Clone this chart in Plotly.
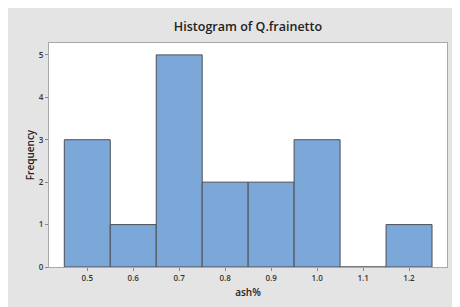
import plotly.graph_objects as go

bin_centers = [0.5, 0.6, 0.7, 0.8, 0.9, 1.0, 1.1, 1.2]
frequencies = [3, 1, 5, 2, 2, 3, 0, 1]
x_tick_vals = [0.5, 0.6, 0.7, 0.8, 0.9, 1.0, 1.1, 1.2]
x_tick_text = ["0.5", "0.6", "0.7", "0.8", "0.9", "1.0", "1.1", "1.2"]
y_tick_vals = [0, 1, 2, 3, 4, 5]

W, H = 460, 307
ml, mr, mt, mb = 41, 21, 35, 48

fig = go.Figure(go.Bar(
    x=bin_centers, y=frequencies, width=0.1,
    marker=dict(color="#7ba7d9", line=dict(color="#4d4f55", width=1)),
))

font = "Open Sans, Noto Sans, sans-serif"
fig.update_layout(
    template="none",
    width=W, height=H,
    margin=dict(l=ml, r=mr, t=mt, b=mb, autoexpand=False),
    paper_bgcolor="#e4e4e4",
    plot_bgcolor="white",
    showlegend=False,
    title=dict(text="Histogram of Q.frainetto", x=0.5, xanchor="center", xref="paper",
               y=1 - 19 / H, yanchor="middle",
               font=dict(family=font, size=12.5, color="#222", weight=600)),
    xaxis=dict(range=[0.4167, 1.2826], tickvals=x_tick_vals, ticktext=x_tick_text,
               automargin=False,
               showgrid=False, zeroline=False, showline=True, mirror=True,
               linecolor="#a8a8a8", linewidth=1, ticks="outside", ticklen=3,
               tickcolor="#888", tickfont=dict(family=font, size=8, color="#333", weight=600),
               title=dict(text="ash%", font=dict(family=font, size=10, color="#222", weight=600), standoff=7)),
    yaxis=dict(range=[0, 5.28], tickvals=y_tick_vals,
               automargin=False,
               showgrid=False, zeroline=False, showline=True, mirror=True,
               linecolor="#a8a8a8", linewidth=1, ticks="outside", ticklen=3,
               tickcolor="#888", tickfont=dict(family=font, size=8, color="#333", weight=600),
               title=dict(text="Frequency", font=dict(family=font, size=10, color="#222", weight=600), standoff=2)),
)

fig.write_html("out.html")
